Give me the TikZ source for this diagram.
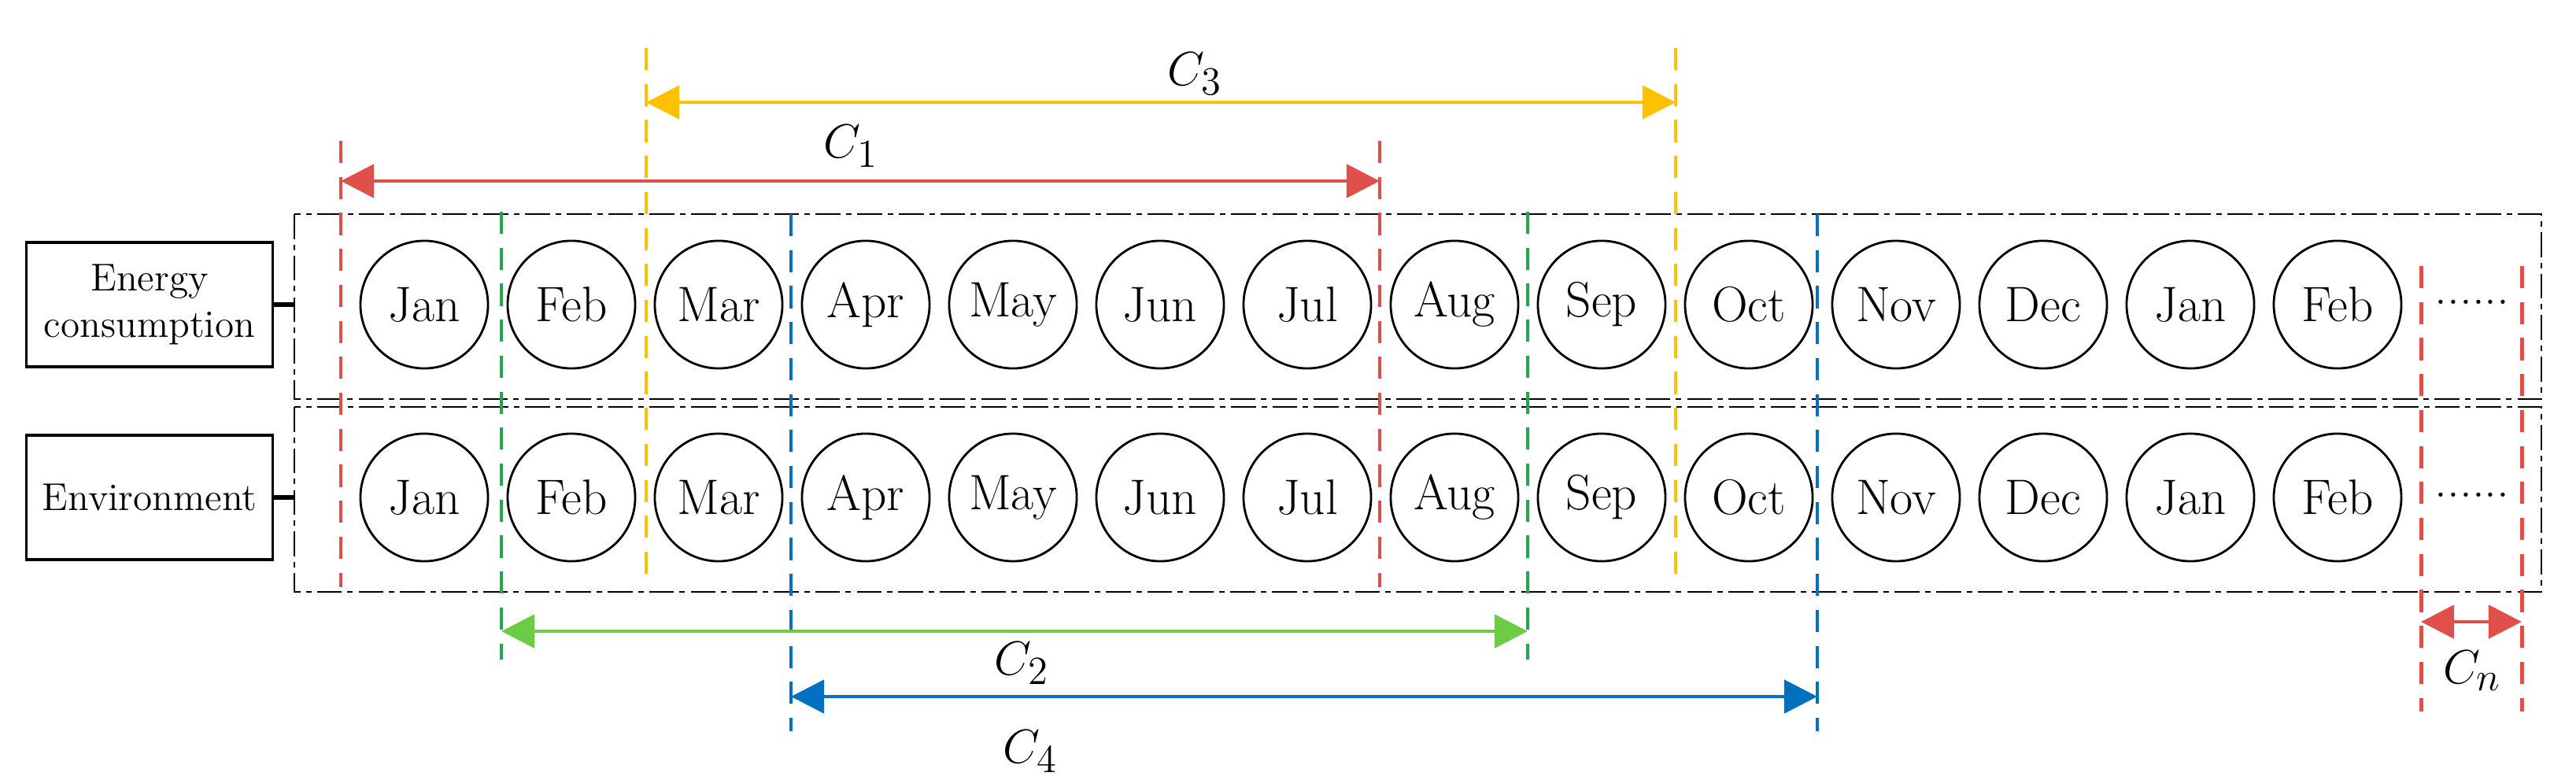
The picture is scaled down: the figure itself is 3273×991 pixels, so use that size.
\documentclass[tikz,border=0pt]{standalone}
\usetikzlibrary{arrows.meta,shapes.geometric}
\definecolor{cred}{HTML}{E0504A}
\definecolor{cyel}{HTML}{FFC000}
\definecolor{cgrn}{HTML}{1EAA4A}
\definecolor{clgrn}{HTML}{6CCC44}
\definecolor{cblu}{HTML}{0070C0}
\tikzset{
	month/.style={circle, draw, line width=0.8pt, minimum size=16.2mm, inner sep=0pt, font=\fontsize{18}{20}\selectfont},
	label box/.style={draw, line width=1pt, minimum width=31.3mm, minimum height=15.8mm, align=center, font=\fontsize{14}{17}\selectfont},
	row box/.style={draw, line width=0.8pt, dash pattern=on 9pt off 2pt on 2pt off 2pt},
	cut/.style={line width=1.4pt, dash pattern=on 8pt off 5pt},
	span/.style={line width=1.4pt, {Triangle[length=12pt,width=12pt]}-{Triangle[length=12pt,width=12pt]}},
	clab/.style={font=\fontsize{19}{21}\selectfont}
}
\begin{document}
\begin{tikzpicture}[x=0.01cm, y=-0.01cm]
	\useasboundingbox (0,0) rectangle (3273,991);

	% label boxes
	\node [label box] (energy) at (190,387) {Energy\\consumption};
	\node [label box] (env) at (190,632) {Environment};

	% row boxes
	\draw [row box] (374,272) rectangle (3229,507);
	\draw [row box] (374,517) rectangle (3229,752);
	\coordinate (top-in) at (374,387);
	\coordinate (bot-in) at (374,632);
	\draw [line width=1.5pt] (energy) -- (top-in);
	\draw [line width=1.5pt] (env) -- (bot-in);

	% months
	\foreach \m [count=\i] in {Jan,Feb,Mar,Apr,May,Jun,Jul,Aug,Sep,Oct,Nov,Dec,Jan,Feb}
	{
		\node [month] (e-\i) at (539+187*\i-187,387) {\m};
		\node [month] (v-\i) at (539+187*\i-187,632) {\m};
	}
	\node [font=\fontsize{18}{20}\selectfont] (e-dots) at (3141,384) {......};
	\node [font=\fontsize{18}{20}\selectfont] (v-dots) at (3141,629) {......};

	% cut lines
	\foreach \x/\a/\b/\c in {433/179/746/cred, 1753/179/746/cred, 821/61/735/cyel, 2129/61/735/cyel,
		637/269/838/cgrn, 1941/269/838/cgrn, 1005/272/929/cblu, 2309/272/929/cblu,
		3076/338/904/cred, 3204/338/904/cred}
		\draw [cut, \c] (\x,\a) -- (\x,\b);

	% spans
	\coordinate (c1-l) at (433,230); \coordinate (c1-r) at (1753,230);
	\coordinate (c3-l) at (821,130); \coordinate (c3-r) at (2129,130);
	\coordinate (c2-l) at (637,802); \coordinate (c2-r) at (1941,802);
	\coordinate (c4-l) at (1005,885); \coordinate (c4-r) at (2309,885);
	\coordinate (cn-l) at (3076,790); \coordinate (cn-r) at (3204,790);
	\draw [span, cred] (c1-l) -- (c1-r);
	\draw [span, cyel] (c3-l) -- (c3-r);
	\draw [span, clgrn] (c2-l) -- (c2-r);
	\draw [span, cblu] (c4-l) -- (c4-r);
	\draw [span, cred] (cn-l) -- (cn-r);

	% labels
	\node [clab] at (1081,186) {$C_1$};
	\node [clab] at (1518,94) {$C_3$};
	\node [clab] at (1298,843) {$C_2$};
	\node [clab] at (1309,955) {$C_4$};
	\node [clab] at (3141,852) {$C_n$};
\end{tikzpicture}
\end{document}
